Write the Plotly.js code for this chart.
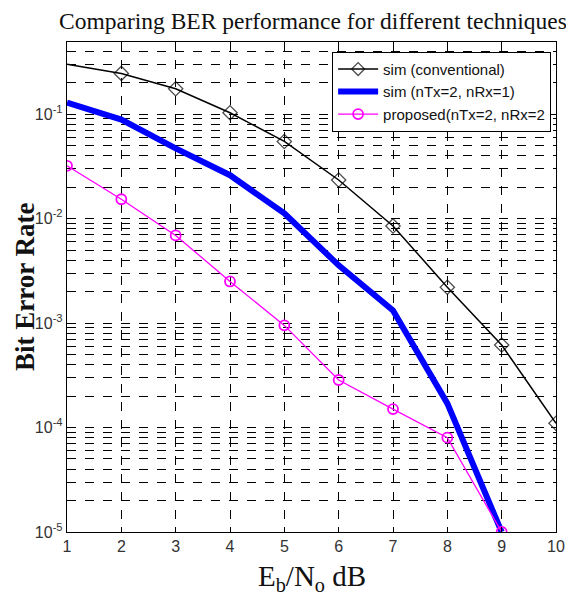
<!DOCTYPE html>
<html>
<head>
<meta charset="utf-8">
<script src="https://cdn.plot.ly/plotly-3.0.1.min.js"></script>
<style>html,body{margin:0;padding:0;background:#fff;}#chart{width:566px;height:601px;}</style>
</head>
<body>
<div id="chart"></div>
<script>
const snr = [1, 2, 3, 4, 5, 6, 7, 8, 9, 10];
const berConventional = [0.30, 0.245, 0.175, 0.103, 0.0547, 0.0234, 0.0085, 0.0022, 0.000616, 0.00011];
const snrMimo = [1, 2, 3, 4, 5, 6, 7, 8, 9];
const berMimo21 = [0.129, 0.0885, 0.047, 0.026, 0.0112, 0.00357, 0.00132, 0.00017, 0.00001];
const berProposed = [0.032, 0.0153, 0.0069, 0.0025, 0.00095, 0.000285, 0.00015, 0.00008, 0.00001];
const names = ['sim (conventional)', 'sim (nTx=2, nRx=1)', 'proposed(nTx=2, nRx=2'];
const yTickVals = [1e-5, 1e-4, 1e-3, 1e-2, 1e-1];
const yTickText = ['10<sup>-5</sup>', '10<sup>-4</sup>', '10<sup>-3</sup>', '10<sup>-2</sup>', '10<sup>-1</sup>'];
const titleText = 'Comparing BER performance for different techniques';
const xTitleText = 'E<sub>b</sub>/N<sub>o</sub> dB';
const yTitleText = '<b>Bit Error Rate</b>';

const serif = 'Liberation Serif, Times New Roman, serif';
const sans = 'Liberation Sans, Arial, sans-serif';

const traces = [
  {x: snr, y: berConventional, name: names[0], mode: 'lines+markers',
   line: {color: 'black', width: 1.5},
   marker: {symbol: 'diamond-open', size: [0, 11, 11, 11, 11, 11, 11, 11, 11, 11], color: 'black', line: {width: 1.3}}},
  {x: snrMimo, y: berMimo21, name: names[1], mode: 'lines',
   line: {color: '#0000ff', width: 6}},
  {x: snrMimo, y: berProposed, name: names[2], mode: 'lines+markers',
   line: {color: '#ff00ff', width: 1.3},
   marker: {symbol: 'circle-open', size: 10, color: '#ff00ff', line: {width: 1.8}}}
];

const layout = {
  width: 566, height: 601,
  margin: {l: 67, r: 10, t: 42, b: 69},
  paper_bgcolor: 'white', plot_bgcolor: 'white',
  showlegend: true,
  title: {text: titleText,
          font: {family: serif, size: 23.5, color: '#111'},
          x: 0.553, xanchor: 'center', y: 0.966, yanchor: 'middle'},
  xaxis: {
    range: [1, 10], dtick: 1, tick0: 1,
    showline: true, linecolor: 'black', linewidth: 1.2, mirror: 'allticks',
    ticks: 'inside', ticklen: 5, tickcolor: 'black',
    showgrid: true, gridcolor: 'black', griddash: 'dash', gridwidth: 1,
    zeroline: false,
    tickfont: {family: sans, size: 16, color: '#333'}
  },
  yaxis: {
    type: 'log', range: [-5, -0.31],
    tickvals: yTickVals, ticktext: yTickText,
    showline: true, linecolor: 'black', linewidth: 1.2, mirror: 'allticks',
    ticks: 'inside', ticklen: 5, tickcolor: 'black',
    showgrid: true, gridcolor: 'black', griddash: 'dash', gridwidth: 1,
    minor: {showgrid: true, gridcolor: 'black', griddash: 'dash', gridwidth: 1, dtick: 'D1', ticks: ''},
    zeroline: false,
    tickfont: {family: sans, size: 16, color: '#333'}
  },
  annotations: [
    {text: xTitleText, xref: 'paper', yref: 'paper', x: 0.5, y: -0.094,
     xanchor: 'center', yanchor: 'middle', showarrow: false,
     font: {family: serif, size: 29, color: '#111'}},
    {text: yTitleText, xref: 'paper', yref: 'paper', x: -0.086, y: 0.5,
     xanchor: 'center', yanchor: 'middle', showarrow: false, textangle: -90,
     font: {family: serif, size: 27, color: '#111'}}
  ],
  legend: {
    x: 0.99, xanchor: 'right', y: 0.98, yanchor: 'top',
    bgcolor: 'white', bordercolor: 'black', borderwidth: 1,
    font: {family: sans, size: 15, color: '#111'},
    tracegroupgap: 0, itemwidth: 40
  }
};

Plotly.newPlot('chart', traces, layout, {displayModeBar: false, staticPlot: true});
</script>
</body>
</html>
